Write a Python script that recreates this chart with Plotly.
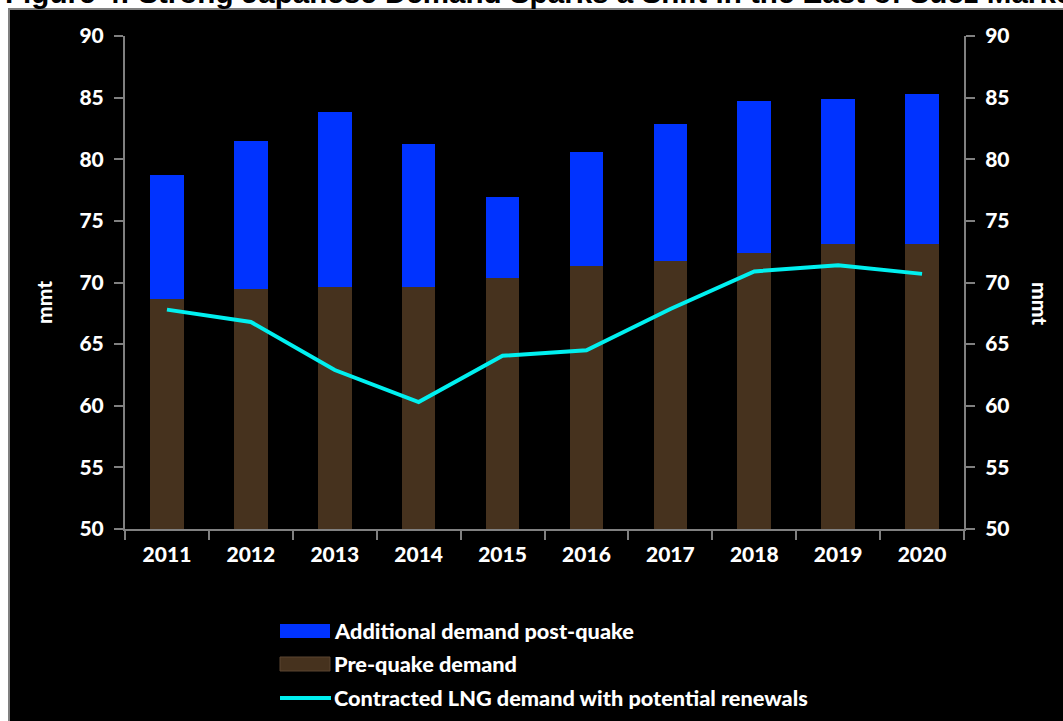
import plotly.graph_objects as go

years = ["2011", "2012", "2013", "2014", "2015", "2016", "2017", "2018", "2019", "2020"]
pre_quake = [68.7, 69.45, 69.6, 69.6, 70.4, 71.3, 71.75, 72.4, 73.1, 73.1]
additional = [10.0, 12.05, 14.2, 11.6, 6.5, 9.3, 11.15, 12.3, 11.8, 12.2]
contracted = [67.8, 66.8, 62.9, 60.3, 64.05, 64.5, 67.85, 70.9, 71.4, 70.7]
y_ticks = [50, 55, 60, 65, 70, 75, 80, 85, 90]

names = ["Additional demand post-quake", "Pre-quake demand",
         "Contracted LNG demand with potential renewals"]
BLUE = "#0033FF"
BROWN = "#46321E"
CYAN = "#00F0F0"
GRAY = "#808080"
FONT = "Lato"

W, H = 1063, 721
L, R, T, B = 125, 99, 36, 192
pw, ph = W - L - R, H - T - B


def xp(px):
    return (px - L) / pw


def yp(py):
    return (H - B - py) / ph


fig = go.Figure()
fig.add_trace(go.Bar(x=years, y=pre_quake, name=names[1], marker=dict(color=BROWN, line=dict(width=0)),
                     showlegend=False))
fig.add_trace(go.Bar(x=years, y=additional, name=names[0], marker=dict(color=BLUE, line=dict(width=0)),
                     showlegend=False))
fig.add_trace(go.Scatter(x=years, y=contracted, name=names[2], mode="lines",
                         line=dict(color=CYAN, width=4), yaxis="y2", showlegend=False))

tickfont = dict(family=FONT, size=21, color="white", weight=900)

shapes = [
    # black panel with gray border
    dict(type="rect", xref="paper", yref="paper", x0=xp(9), x1=xp(1075), y0=yp(735), y1=yp(9),
         fillcolor="black", line=dict(color=GRAY, width=2), layer="below"),
    # legend swatches
    dict(type="rect", xref="paper", yref="paper", x0=xp(280), x1=xp(330), y0=yp(638), y1=yp(624),
         fillcolor=BLUE, line=dict(width=0)),
    dict(type="rect", xref="paper", yref="paper", x0=xp(280), x1=xp(330), y0=yp(671), y1=yp(657),
         fillcolor=BROWN, line=dict(color="#5a4530", width=1)),
    dict(type="line", xref="paper", yref="paper", x0=xp(280), x1=xp(331), y0=yp(698), y1=yp(698),
         line=dict(color=CYAN, width=4)),
]

annotations = [
    dict(text="Figure 4: Strong Japanese Demand Sparks a Shift in the East of Suez Market",
         xref="paper", yref="paper", x=xp(3), y=yp(-7), xanchor="left", yanchor="middle",
         showarrow=False, font=dict(family="Liberation Sans", size=29.6, color="black", weight="bold")),
    dict(text="mmt", xref="paper", yref="paper", x=xp(43), y=yp(303), textangle=-90,
         xanchor="center", yanchor="middle", showarrow=False, font=tickfont),
    dict(text="mmt", xref="paper", yref="paper", x=xp(1041), y=yp(303), textangle=90,
         xanchor="center", yanchor="middle", showarrow=False, font=tickfont),
]
for name, cy in zip(names, [631, 664, 698]):
    annotations.append(dict(text=name, xref="paper", yref="paper", x=xp(332), y=yp(cy),
                            xanchor="left", yanchor="middle", showarrow=False,
                            font=dict(family=FONT, size=21.7, color="white", weight=900)))

axis_common = dict(showgrid=False, zeroline=False, showline=True, linecolor=GRAY, linewidth=2,
                   ticks="outside", tickcolor=GRAY, tickwidth=2, ticklen=9, tickfont=tickfont)

fig.update_layout(
    width=W, height=H,
    margin=dict(l=L, r=R, t=T, b=B, pad=0),
    paper_bgcolor="white", plot_bgcolor="rgba(0,0,0,0)",
    barmode="stack", bargap=0.6,
    showlegend=False,
    xaxis=dict(type="category", range=[-0.5, 9.5], tickson="boundaries", ticklabelstandoff=6,
               **axis_common),
    yaxis=dict(range=[50, 90], tickvals=y_ticks, ticklabelstandoff=6, **axis_common),
    yaxis2=dict(range=[50, 90], tickvals=y_ticks, overlaying="y", side="right",
                ticklabelstandoff=6, **axis_common),
    shapes=shapes, annotations=annotations,
)

fig.write_html("out.html")
